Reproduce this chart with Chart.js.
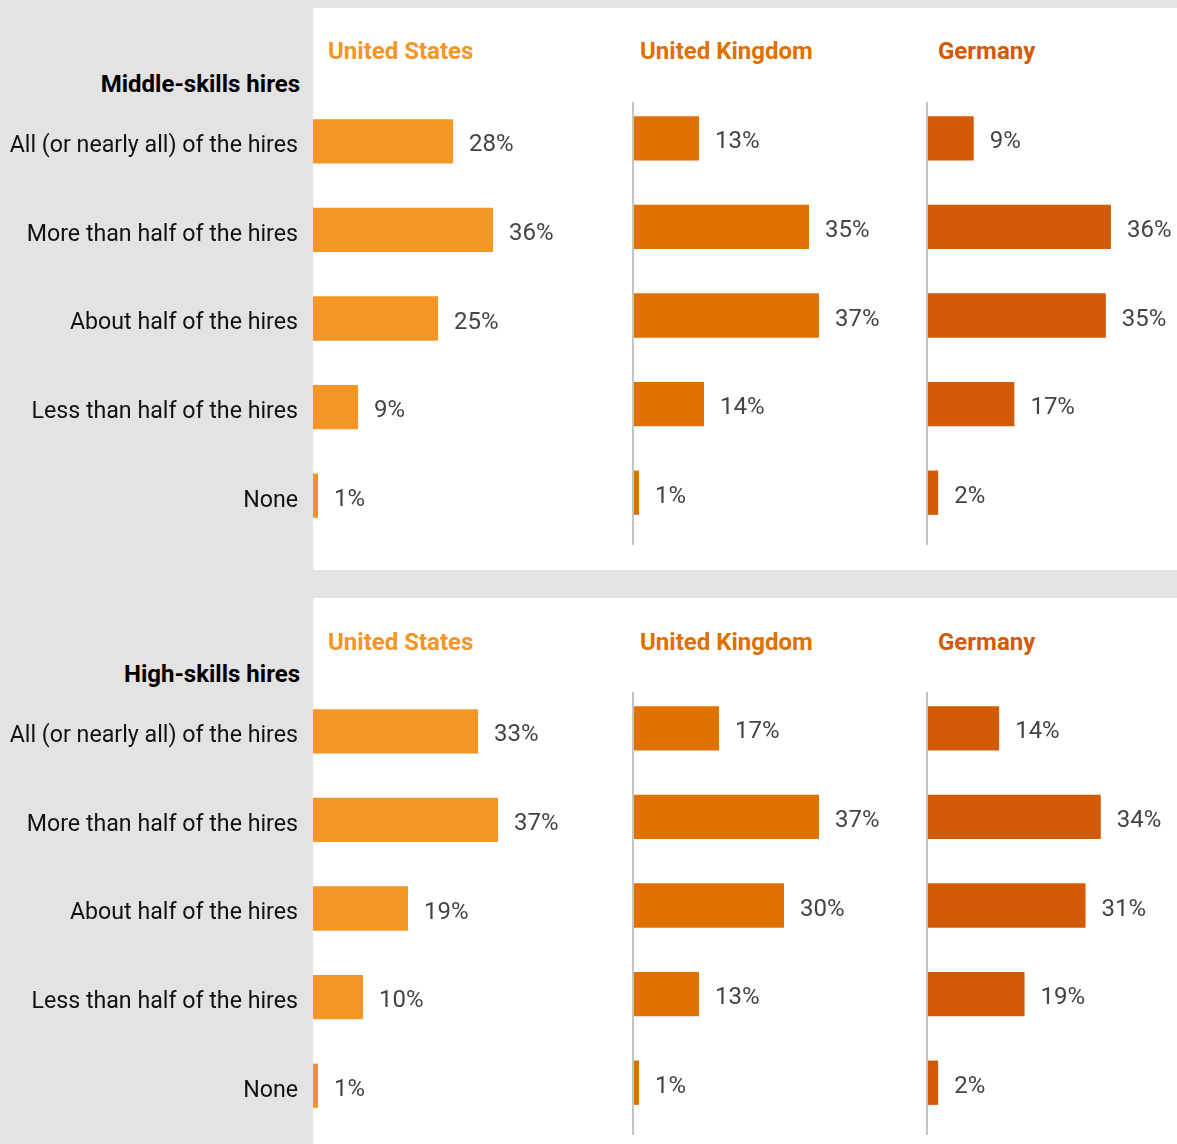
<!DOCTYPE html>
<html>
<head>
<meta charset="utf-8">
<script src="https://cdn.jsdelivr.net/npm/chart.js@4/dist/chart.umd.min.js"></script>
<style>
  body { margin: 0; width: 1177px; height: 1144px; background: #e3e3e3; position: relative; overflow: hidden; font-family: Roboto, sans-serif; }
  .panel { position: absolute; left: 313px; width: 864px; background: #fff; }
  .cv { position: absolute; }
  .ttl { position: absolute; font-weight: bold; font-size: 24px; line-height: 28px; white-space: nowrap; }
  .grp { position: absolute; right: 877px; font-weight: bold; font-size: 24px; line-height: 28px; color: #000; white-space: nowrap; }
</style>
</head>
<body>
<div class="panel" style="top:8px;height:562px"></div>
<div class="panel" style="top:598px;height:546px"></div>

<div class="grp" style="top:70px">Middle-skills hires</div>
<div class="grp" style="top:660px">High-skills hires</div>

<div class="ttl" style="left:328px;top:37px;color:#f39625">United States</div>
<div class="ttl" style="left:640px;top:37px;color:#e07000">United Kingdom</div>
<div class="ttl" style="left:938px;top:37px;color:#d35a05">Germany</div>
<div class="ttl" style="left:328px;top:628px;color:#f39625">United States</div>
<div class="ttl" style="left:640px;top:628px;color:#e07000">United Kingdom</div>
<div class="ttl" style="left:938px;top:628px;color:#d35a05">Germany</div>

<canvas id="midUS" class="cv" style="left:0;top:97px" width="613" height="443"></canvas>
<canvas id="midUK" class="cv" style="left:624px;top:94px" width="300" height="460"></canvas>
<canvas id="midDE" class="cv" style="left:918px;top:94px" width="259" height="460"></canvas>
<canvas id="highUS" class="cv" style="left:0;top:687px" width="613" height="443"></canvas>
<canvas id="highUK" class="cv" style="left:624px;top:684px" width="300" height="460"></canvas>
<canvas id="highDE" class="cv" style="left:918px;top:684px" width="259" height="460"></canvas>

<script>
var categorias = ['All (or nearly all) of the hires', 'More than half of the hires', 'About half of the hires', 'Less than half of the hires', 'None'];

var middleUS = [28, 36, 25, 9, 1];
var middleUK = [13, 35, 37, 14, 1];
var middleDE = [9, 36, 35, 17, 2];

var highUS = [33, 37, 19, 10, 1];
var highUK = [17, 37, 30, 13, 1];
var highDE = [14, 34, 31, 19, 2];

var corUS = '#f39625';
var corUK = '#e07000';
var corDE = '#d35a05';

var fonte = 'Roboto, sans-serif';

// rotulos de valor no fim de cada barra
var rotulos = {
  id: 'rotulos',
  afterDatasetsDraw: function(chart) {
    var ctx = chart.ctx;
    var meta = chart.getDatasetMeta(0);
    var valores = chart.data.datasets[0].data;
    ctx.save();
    ctx.font = '24px ' + fonte;
    ctx.fillStyle = '#444';
    ctx.textAlign = 'left';
    ctx.textBaseline = 'middle';
    meta.data.forEach(function(bar, i) {
      ctx.fillText(valores[i] + '%', bar.x + 16, bar.y + 4);
    });
    ctx.restore();
  }
};

// linha cinza vertical a esquerda (UK e Alemanha)
var linha = {
  id: 'linha',
  beforeDatasetsDraw: function(chart) {
    var a = chart.chartArea;
    var ctx = chart.ctx;
    ctx.save();
    ctx.strokeStyle = '#c4c4c4';
    ctx.lineWidth = 2;
    ctx.beginPath();
    ctx.moveTo(a.left - 1, a.top + 8);
    ctx.lineTo(a.left - 1, a.bottom + 8);
    ctx.stroke();
    ctx.restore();
  }
};

function criaGrafico(id, valores, cor, maximo, comRotulos) {
  var ctx = document.getElementById(id).getContext('2d');
  var eixoY = {
    display: comRotulos,
    grid: { display: false, drawTicks: false },
    border: { display: false },
    ticks: {
      padding: 15,
      labelOffset: 5,
      color: '#111',
      font: { family: fonte, size: 23.2 }
    }
  };
  if (comRotulos) {
    eixoY.afterFit = function(axis) {
      axis.width = 313;
      axis.paddingTop = 0;
      axis.paddingBottom = 0;
    };
  }
  var config = {
    type: 'bar',
    data: {
      labels: categorias,
      datasets: [{
        data: valores,
        backgroundColor: cor,
        borderWidth: 0,
        barPercentage: 0.5,
        categoryPercentage: 1
      }]
    },
    options: {
      indexAxis: 'y',
      responsive: false,
      animation: false,
      layout: { padding: comRotulos ? 0 : { left: 10, bottom: 17 } },
      plugins: { legend: { display: false }, tooltip: { enabled: false } },
      scales: {
        x: { display: false, min: 0, max: maximo },
        y: eixoY
      }
    },
    plugins: comRotulos ? [rotulos] : [rotulos, linha]
  };
  return new Chart(ctx, config);
}

var chartMidUS = criaGrafico('midUS', middleUS, corUS, 60, true);
var chartMidUK = criaGrafico('midUK', middleUK, corUK, 58, false);
var chartMidDE = criaGrafico('midDE', middleDE, corDE, 49, false);
var chartHighUS = criaGrafico('highUS', highUS, corUS, 60, true);
var chartHighUK = criaGrafico('highUK', highUK, corUK, 58, false);
var chartHighDE = criaGrafico('highDE', highDE, corDE, 49, false);
</script>
</body>
</html>
